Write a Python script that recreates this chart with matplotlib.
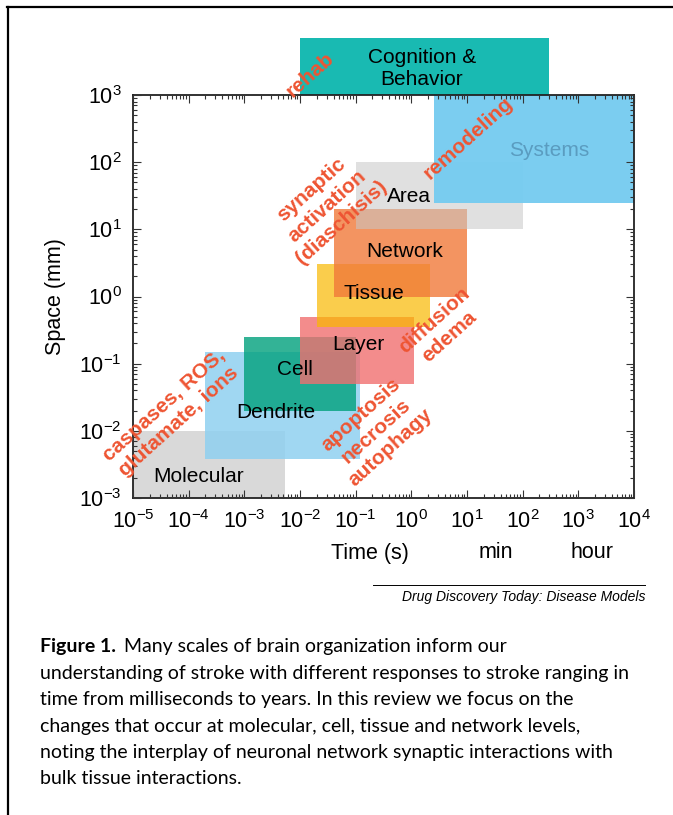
import numpy as np
import matplotlib.pyplot as plt
from matplotlib.ticker import LogLocator, NullFormatter
from matplotlib.lines import Line2D

plt.rcParams['font.family'] = ['Liberation Sans', 'DejaVu Sans']
plt.rcParams['mathtext.fontset'] = 'custom'
plt.rcParams['mathtext.rm'] = 'Liberation Sans'
plt.rcParams['mathtext.default'] = 'regular'

# scales of brain organization: time range (s) and space range (mm)
names = ['Molecular', 'Dendrite', 'Cell', 'Layer', 'Tissue', 'Network',
         'Area', 'Systems', 'Cognition &\nBehavior']
t_lo = [1e-5, 2e-4, 1e-3, 1e-2, 2e-2, 4e-2, 1e-1, 2.6, 1e-2]
t_hi = [5.4e-3, 0.12, 0.1, 1.1, 2.2, 10, 100, 1e4, 300]
s_lo = [1e-3, 3.8e-3, 0.02, 0.05, 0.35, 1, 10, 25, 1e3]
s_hi = [0.01, 0.15, 0.25, 0.5, 3, 20, 100, 1e3, 7000]

# where the box names sit
label_t = [1.5e-4, 3.7e-3, 8.1e-3, 0.11, 0.21, 0.76, 0.9, 295, 1.55]
label_s = [2.1e-3, 0.019, 0.081, 0.19, 1.1, 4.6, 31, 147, 2450]

# stroke responses (red notes)
notes = ['rehab', 'synaptic\nactivation\n(diaschisis)', 'remodeling',
         'diffusion\nedema', 'caspases, ROS,\nglutamate, ions',
         'apoptosis\nnecrosis\nautophagy']
note_t = [0.015, 0.030, 10.7, 3.5, 4.8e-5, 0.23]
note_s = [2000, 22, 230, 0.33, 0.018, 0.0098]

colors = ['#d9d9d9', '#8fd0f0', '#00a07c', '#f07070', '#f9b800', '#f07a3a',
          '#c8c8c8', '#74cbf0', '#19bab2']
alphas = [1.0, 0.85, 0.8, 0.8, 0.7, 0.8, 0.55, 0.95, 1.0]

caption = [
    'understanding of stroke with different responses to stroke ranging in',
    'time from milliseconds to years. In this review we focus on the',
    'changes that occur at molecular, cell, tissue and network levels,',
    'noting the interplay of neuronal network synaptic interactions with',
    'bulk tissue interactions.',
]

W, H = 673, 815
fig = plt.figure(figsize=(W / 100, H / 100), dpi=100)
ax = fig.add_axes([133 / W, 1 - 498 / H, (634 - 133) / W, (498 - 95) / H])
ax.set_xscale('log')
ax.set_yscale('log')
ax.set_xlim(1e-5, 1e4)
ax.set_ylim(1e-3, 1e3)
ax.set_axisbelow(False)

# boxes
for i in range(len(names)):
    bars = ax.bar(t_lo[i], s_hi[i] - s_lo[i], width=t_hi[i] - t_lo[i],
                  bottom=s_lo[i], align='edge', color=colors[i],
                  alpha=alphas[i], linewidth=0)
    if i == len(names) - 1:
        for b in bars:
            b.set_clip_on(False)

for i in range(len(names)):
    c = '#5a9cc0' if names[i] == 'Systems' else 'black'
    ax.text(label_t[i], label_s[i], names[i], ha='center', va='center',
            fontsize=15, color=c, linespacing=1.2, zorder=5)

for i in range(len(notes)):
    ax.text(note_t[i], note_s[i], notes[i], ha='center', va='center',
            rotation=42, rotation_mode='anchor', multialignment='center',
            fontsize=15, fontweight='bold', color='#ee5533',
            linespacing=1.2, zorder=6)

# ticks on every side, pointing in
ax.xaxis.set_major_locator(LogLocator(base=10, numticks=20))
ax.yaxis.set_major_locator(LogLocator(base=10, numticks=20))
ax.xaxis.set_minor_locator(LogLocator(base=10, subs=np.arange(2, 10), numticks=20))
ax.yaxis.set_minor_locator(LogLocator(base=10, subs=np.arange(2, 10), numticks=20))
ax.xaxis.set_minor_formatter(NullFormatter())
ax.yaxis.set_minor_formatter(NullFormatter())
ax.tick_params(which='both', direction='in', top=True, right=True,
               width=0.8, color='#333333')
ax.tick_params(which='major', length=6, labelsize=15.5)
ax.tick_params(which='minor', length=3)
ax.tick_params(axis='x', pad=9)
ax.tick_params(axis='y', pad=8)
for sp in ax.spines.values():
    sp.set_linewidth(1.3)
    sp.set_color('#222222')

fig.text(55 / W, 1 - 297 / H, 'Space (mm)', rotation=90, ha='center',
         va='center', fontsize=15.5)
fig.text(370 / W, 1 - 553 / H, 'Time (s)', ha='center', va='center', fontsize=15.5)
fig.text(496 / W, 1 - 553 / H, 'min', ha='center', va='center', fontsize=15.5)
fig.text(592 / W, 1 - 553 / H, 'hour', ha='center', va='center', fontsize=15.5)

# journal credit
fig.add_artist(Line2D([373 / W, 645 / W], [1 - 585 / H, 1 - 585 / H],
                      transform=fig.transFigure, color='black', linewidth=0.7))
fig.text(645 / W, 1 - 597 / H, 'Drug Discovery Today: Disease Models',
         ha='right', va='center', fontsize=10, style='italic')

# caption
cap_font = 'Lato'
base = [652, 679, 705, 732, 758, 784]
t0 = fig.text(40 / W, 1 - base[0] / H, 'Figure 1.', ha='left', va='baseline',
              fontsize=14, fontweight='bold', family=cap_font)
bb = t0.get_window_extent(renderer=fig.canvas.get_renderer())
fig.text((bb.x1 + 8) / W, 1 - base[0] / H,
         'Many scales of brain organization inform our',
         ha='left', va='baseline', fontsize=14, family=cap_font)
for k, line in enumerate(caption):
    fig.text(40 / W, 1 - base[k + 1] / H, line, ha='left', va='baseline',
             fontsize=14, family=cap_font)

# page frame (top and left rule)
fig.add_artist(Line2D([7 / W, 1], [1 - 7 / H, 1 - 7 / H],
                      transform=fig.transFigure, color='black', linewidth=1.6))
fig.add_artist(Line2D([8 / W, 8 / W], [0, 1 - 7 / H],
                      transform=fig.transFigure, color='black', linewidth=1.6))

fig.savefig('out.png', dpi=100)
